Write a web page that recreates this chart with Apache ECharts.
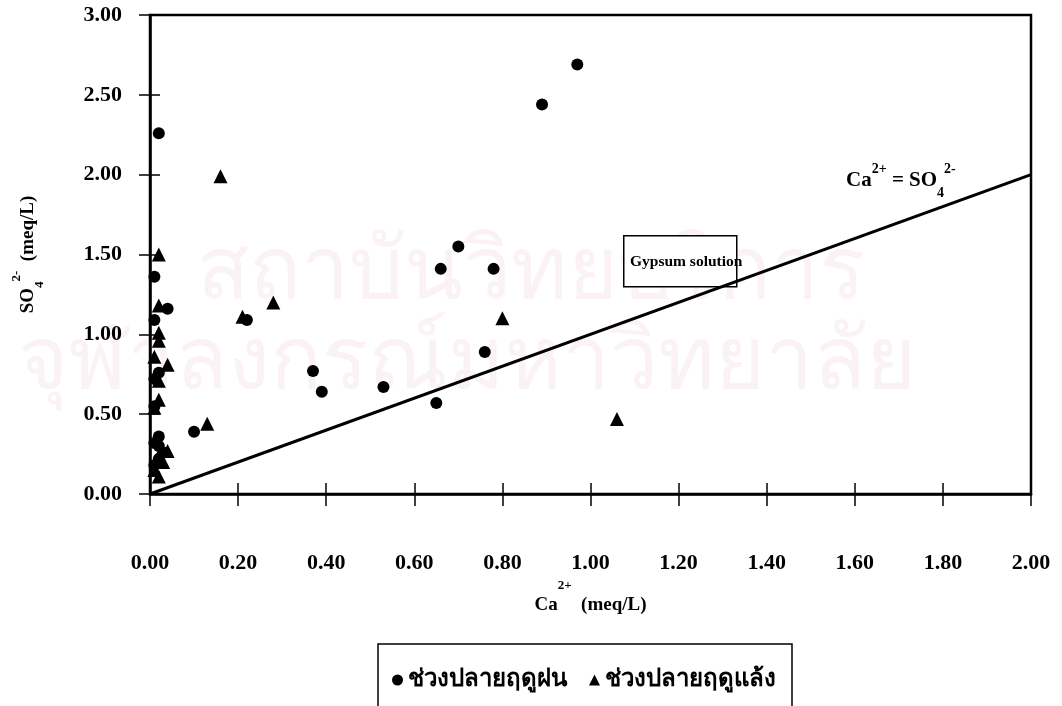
<!DOCTYPE html>
<html>
<head>
<meta charset="utf-8">
<script src="https://cdn.jsdelivr.net/npm/echarts@6/dist/echarts.min.js"></script>
<style>
    html, body { margin: 0; padding: 0; background: #fff; }
    #content { width: 1062px; height: 706px; }
</style>
</head>
<body>
<div id="content"></div>
<script>
// Ca2+ (x) vs SO4 2- (y), meq/L
var rainySeason = [
    [0.02, 2.26], [0.89, 2.44], [0.97, 2.69], [0.70, 1.55], [0.66, 1.41],
    [0.78, 1.41], [0.76, 0.89], [0.37, 0.77], [0.39, 0.64], [0.53, 0.67],
    [0.65, 0.57], [0.10, 0.39], [0.22, 1.09], [0.04, 1.16], [0.01, 1.36],
    [0.01, 1.09], [0.02, 0.76], [0.01, 0.72], [0.01, 0.55], [0.02, 0.36],
    [0.01, 0.32], [0.03, 0.26], [0.02, 0.22], [0.01, 0.18], [0.02, 0.30]
];
var drySeason = [
    [0.16, 1.99], [0.02, 1.50], [0.02, 1.18], [0.02, 1.01], [0.02, 0.96],
    [0.01, 0.86], [0.04, 0.81], [0.02, 0.71], [0.02, 0.59], [0.01, 0.54],
    [0.21, 1.11], [0.28, 1.20], [0.80, 1.10], [1.06, 0.47], [0.13, 0.44],
    [0.04, 0.27], [0.02, 0.24], [0.01, 0.15], [0.02, 0.11], [0.03, 0.20]
];
var equalLine = [[0, 0], [2, 2]];
var seriesNames = ['ช่วงปลายฤดูฝน', 'ช่วงปลายฤดูแล้ง'];
var xRange = [0, 2, 0.2];
var yRange = [0, 3, 0.5];

var serif = '"Liberation Serif", "Times New Roman", serif';
var thai = '"Liberation Serif", "DejaVu Sans", "Noto Sans", sans-serif';

var myChart = echarts.init(document.getElementById('content'));

function fmt(v) {
    return v.toFixed(2);
}

var option = {
    backgroundColor: '#fff',
    animation: false,
    grid: {
        left: 150, right: 31, top: 15, bottom: 212,
        show: true, borderColor: '#000', borderWidth: 2.5
    },
    legend: {
        left: 378, top: 644,
        padding: [24, 16, 40, 14],
        borderColor: '#000', borderWidth: 1.5,
        itemWidth: 11, itemHeight: 11, itemGap: 22,
        textStyle: { color: '#000', fontSize: 24, fontWeight: 'bold', fontFamily: thai },
        data: [
            { name: seriesNames[0], icon: 'circle' },
            { name: seriesNames[1], icon: 'triangle' }
        ]
    },
    graphic: [
        // faint scan watermark
        {
            type: 'text', left: 'center', top: 232, z: -1, silent: true,
            style: { text: 'สถาบันวิทยบริการ', fontSize: 86, fontFamily: thai, fill: '#fbf2f6' }
        },
        {
            type: 'text', left: 18, top: 322, z: -1, silent: true,
            style: { text: 'จุฬาลงกรณ์มหาวิทยาลัย', fontSize: 86, fontFamily: thai, fill: '#fbf2f6' }
        },
        {
            type: 'rect', left: 623, top: 235, z: 1,
            shape: { width: 113, height: 51 },
            style: { fill: '#fff', stroke: '#000', lineWidth: 1.5 }
        },
        {
            type: 'text', left: 630, top: 254, z: 2,
            style: { text: 'Gypsum solution', fontSize: 15.5, fontWeight: 'bold', fontFamily: serif, fill: '#000' }
        },
        {
            type: 'text', left: 846, top: 162, z: 2,
            style: {
                text: '{b|Ca}{s|2+}{b| = SO}{u|4}{s|2-}',
                rich: {
                    b: { fontSize: 21, fontWeight: 'bold', fontFamily: serif, fill: '#000', verticalAlign: 'middle', lineHeight: 38 },
                    s: { fontSize: 14, fontWeight: 'bold', fontFamily: serif, fill: '#000', verticalAlign: 'top', lineHeight: 38 },
                    u: { fontSize: 14, fontWeight: 'bold', fontFamily: serif, fill: '#000', verticalAlign: 'bottom', lineHeight: 38 }
                }
            }
        }
    ],
    xAxis: [{
        type: 'value', min: xRange[0], max: xRange[1], interval: xRange[2],
        name: '{b|Ca}{s|2+}{b|  (meq/L)}',
        nameLocation: 'middle', nameGap: 80,
        nameTextStyle: {
            rich: {
                b: { fontSize: 19, fontWeight: 'bold', fontFamily: serif, color: '#000', verticalAlign: 'bottom', lineHeight: 36 },
                s: { fontSize: 13, fontWeight: 'bold', fontFamily: serif, color: '#000', verticalAlign: 'top', lineHeight: 36 }
            }
        },
        axisLine: { show: true, onZero: false, lineStyle: { color: '#000', width: 2.5 } },
        axisTick: { show: true, length: 12, lineStyle: { color: '#000', width: 1.5 } },
        axisLabel: { margin: 58, formatter: fmt, color: '#000', fontSize: 22, fontWeight: 'bold', fontFamily: serif },
        splitLine: { show: false }
    }, {
        type: 'value', min: xRange[0], max: xRange[1], interval: xRange[2], position: 'bottom',
        axisLine: { show: false },
        axisTick: { show: true, inside: true, length: 11, lineStyle: { color: '#000', width: 1.5 } },
        axisLabel: { show: false },
        splitLine: { show: false }
    }],
    yAxis: [{
        type: 'value', min: yRange[0], max: yRange[1], interval: yRange[2],
        name: '{b|SO}{u|4}{s|2-}{b|  (meq/L)}',
        nameLocation: 'middle', nameGap: 104, nameRotate: 90,
        nameTextStyle: {
            rich: {
                b: { fontSize: 19, fontWeight: 'bold', fontFamily: serif, color: '#000', verticalAlign: 'middle', lineHeight: 36 },
                s: { fontSize: 13, fontWeight: 'bold', fontFamily: serif, color: '#000', verticalAlign: 'top', lineHeight: 36 },
                u: { fontSize: 13, fontWeight: 'bold', fontFamily: serif, color: '#000', verticalAlign: 'bottom', lineHeight: 36 }
            }
        },
        axisLine: { show: true, onZero: false, lineStyle: { color: '#000', width: 2.5 } },
        axisTick: { show: true, length: 11, lineStyle: { color: '#000', width: 1.5 } },
        axisLabel: { margin: 28, formatter: fmt, color: '#000', fontSize: 22, fontWeight: 'bold', fontFamily: serif },
        splitLine: { show: false }
    }, {
        type: 'value', min: yRange[0], max: yRange[1], interval: yRange[2], position: 'left',
        axisLine: { show: false },
        axisTick: { show: true, inside: true, length: 10, lineStyle: { color: '#000', width: 1.5 } },
        axisLabel: { show: false },
        splitLine: { show: false }
    }],
    series: [{
        name: seriesNames[0],
        type: 'scatter',
        symbol: 'circle',
        symbolSize: 12,
        itemStyle: { color: '#000', opacity: 1 },
        z: 4,
        data: rainySeason
    }, {
        name: seriesNames[1],
        type: 'scatter',
        symbol: 'triangle',
        symbolSize: 14,
        itemStyle: { color: '#000', opacity: 1 },
        z: 4,
        data: drySeason
    }, {
        name: 'Ca = SO4',
        type: 'line',
        symbol: 'none',
        lineStyle: { color: '#000', width: 3 },
        z: 3,
        data: equalLine
    }]
};
myChart.setOption(option);
</script>
</body>
</html>
